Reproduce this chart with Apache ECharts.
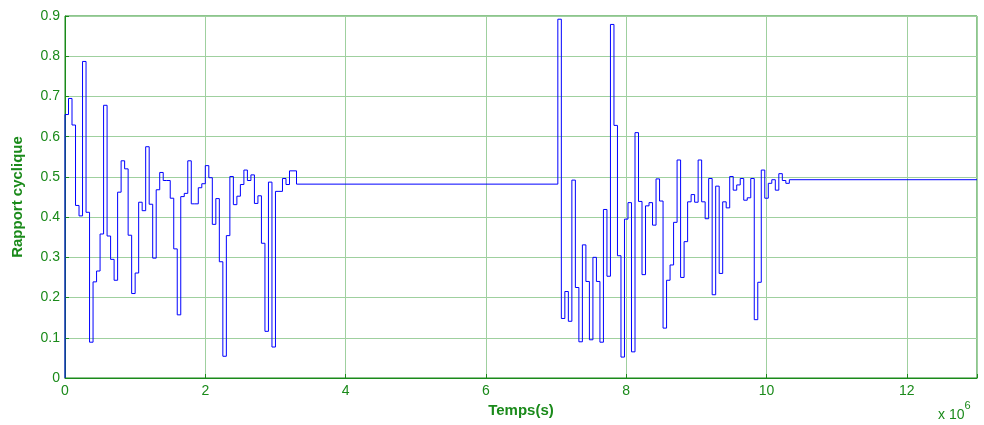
<!DOCTYPE html>
<html>
<head>
<meta charset="utf-8">
<script src="https://cdn.jsdelivr.net/npm/echarts@6/dist/echarts.min.js"></script>
<style>html,body{margin:0;padding:0;background:#fff}#c{width:984px;height:425px}</style>
</head>
<body>
<div id="c"></div>
<script>
// Time step of the duty-cycle signal (x 10^6 s)
var sampleStep = 0.05;
var seg1Start = 0;
var seg2Start = 7.025;
var tEnd = 13;
var initialValue = 0;
var seg1Values = [0.655,0.695,0.629,0.429,0.403,0.787,0.412,0.089,0.239,0.266,
  0.358,0.678,0.353,0.295,0.243,0.462,0.540,0.520,0.355,0.210,
  0.261,0.437,0.416,0.575,0.432,0.298,0.468,0.511,0.491,0.491,
  0.447,0.321,0.157,0.451,0.459,0.540,0.433,0.433,0.473,0.483,
  0.528,0.498,0.382,0.446,0.289,0.054,0.354,0.501,0.431,0.452,
  0.481,0.517,0.491,0.505,0.434,0.453,0.335,0.116,0.487,0.077,
  0.464,0.464,0.496,0.481,0.515,0.515,0.482];
var seg2Values = [0.892,0.148,0.215,0.141,0.492,0.225,0.090,0.331,0.240,0.095,
  0.300,0.240,0.089,0.419,0.253,0.879,0.628,0.304,0.052,0.395,
  0.436,0.065,0.610,0.439,0.257,0.428,0.436,0.380,0.495,0.440,
  0.124,0.243,0.281,0.387,0.542,0.250,0.339,0.438,0.456,0.437,
  0.542,0.438,0.396,0.496,0.207,0.477,0.260,0.438,0.423,0.501,
  0.467,0.480,0.496,0.442,0.448,0.496,0.145,0.238,0.517,0.447,
  0.484,0.493,0.467,0.508,0.491,0.484,0.493];
var xTicks = [0,2,4,6,8,10,12];
var yTicks = [0,0.1,0.2,0.3,0.4,0.5,0.6,0.7,0.8,0.9];

var data = [[seg1Start, initialValue]];
seg1Values.forEach(function(v,i){ data.push([seg1Start + i*sampleStep, v]); });
seg2Values.forEach(function(v,i){ data.push([seg2Start + i*sampleStep, v]); });
data.push([tEnd, seg2Values[seg2Values.length-1]]);

var green = '#1a8a1a';
var gridGreen = '#9fd09f';
var font = 'Liberation Sans, Arial, sans-serif';

var chart = echarts.init(document.getElementById('c'), null, {renderer:'canvas'});
chart.setOption({
  animation:false,
  backgroundColor:'#fff',
  grid:{left:65, right:7, top:16, bottom:47, show:true, borderColor:green, borderWidth:1, containLabel:false},
  xAxis:{
    type:'value', min:0, max:13, interval:2,
    name:'Temps(s)', nameLocation:'middle', nameGap:22,
    nameTextStyle:{color:green, fontWeight:'bold', fontSize:15, fontFamily:font},
    axisLine:{show:true, lineStyle:{color:green, width:1}},
    axisTick:{show:true, inside:true, length:4, lineStyle:{color:green}},
    axisLabel:{color:green, fontSize:14, fontFamily:font, margin:6,
      formatter:function(v){ return xTicks.indexOf(v)>=0 ? String(v) : ''; }},
    splitLine:{show:true, lineStyle:{color:gridGreen, width:1}}
  },
  yAxis:{
    type:'value', min:0, max:0.9, interval:0.1,
    name:'Rapport cyclique', nameLocation:'middle', nameGap:40,
    nameTextStyle:{color:green, fontWeight:'bold', fontSize:15, fontFamily:font},
    axisLine:{show:true, lineStyle:{color:green, width:1}},
    axisTick:{show:true, inside:true, length:4, lineStyle:{color:green}},
    axisLabel:{color:green, fontSize:14, fontFamily:font, margin:5,
      formatter:function(v){ var r = Math.round(v*10)/10; return yTicks.indexOf(r)>=0 ? String(r) : ''; }},
    splitLine:{show:true, lineStyle:{color:gridGreen, width:1}}
  },
  graphic:[{
    type:'text', left:938, top:400,
    style:{
      text:'{a|x 10}{b|6}',
      rich:{
        a:{fill:green, fontSize:14, fontFamily:font, padding:[8,0,0,0]},
        b:{fill:green, fontSize:11, fontFamily:font, verticalAlign:'top'}
      }
    }
  }],
  series:[{
    type:'line', step:'end', showSymbol:false, symbol:'none',
    data:data,
    lineStyle:{color:'#0000ff', width:1},
    silent:true
  }]
});
</script>
</body>
</html>
